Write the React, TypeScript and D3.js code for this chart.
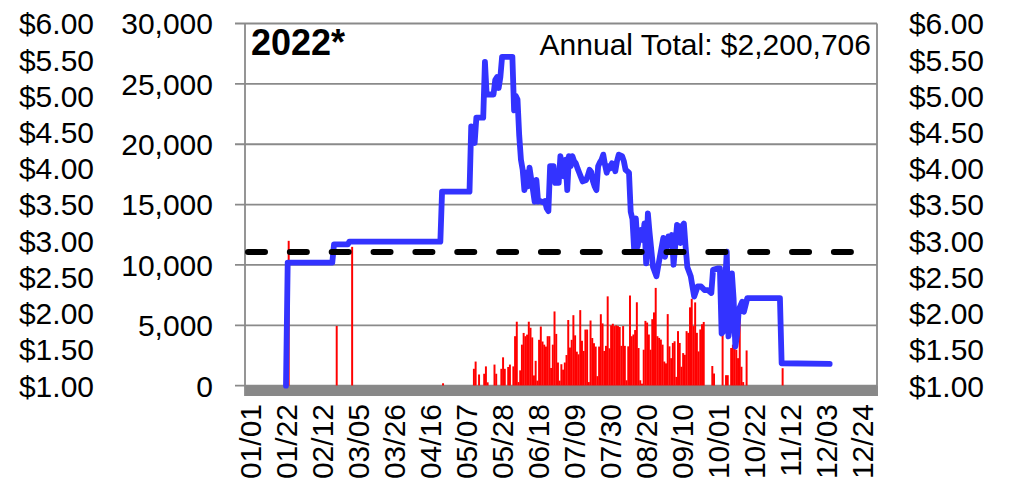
import React from "react";
import * as d3 from "d3";

const W = 1009;
const H = 491;

// axis labels
const xTickLabels = [
  "01/01", "01/22", "02/12", "03/05", "03/26", "04/16", "05/07", "05/28", "06/18",
  "07/09", "07/30", "08/20", "09/10", "10/01", "10/22", "11/12", "12/03", "12/24",
];
const volumeTicks = [0, 5000, 10000, 15000, 20000, 25000, 30000];
const priceTicks = [1, 1.5, 2, 2.5, 3, 3.5, 4, 4.5, 5, 5.5, 6];

const yearLabel = "2022*";
const annualTotal = "Annual Total: $2,200,706";
const referencePrice = 2.845;

// price, day of year (0 = Jan 1)
const priceDays = [
  21, 22, 48, 49, 57, 58, 111, 112, 128, 129, 131, 132, 136, 137, 138, 142, 143, 144, 145, 146,
  147, 153, 154, 155, 156, 157, 158, 159, 160, 161, 162, 163, 164, 165, 166, 167, 168, 169, 171, 172,
  173, 174, 175, 177, 178, 180, 181, 182, 183, 184, 185, 186, 187, 188, 189, 190, 191, 192, 193, 194,
  196, 197, 198, 199, 200, 201, 202, 203, 204, 205, 206, 207, 208, 209, 210, 211, 212, 213, 214, 215,
  217, 218, 219, 221, 222, 223, 224, 225, 226, 227, 228, 229, 230, 231, 232, 233, 235, 237, 239, 241,
  242, 244, 245, 246, 247, 249, 250, 251, 252, 253, 254, 255, 257, 258, 259, 261, 263, 265, 267, 269,
  270, 273, 274, 275, 276, 277, 278, 279, 280, 281, 282, 283, 284, 285, 287, 288, 290, 309, 310, 338,
];
const priceValues = [
  1.0, 2.7, 2.7, 2.95, 2.95, 2.99, 2.99, 3.68, 3.68, 4.58, 4.35, 4.7, 4.7, 5.47, 5.02, 5.02, 5.22, 5.26, 5.11, 5.26,
  5.54, 5.54, 4.8, 5.0, 4.95, 4.45, 4.12, 3.98, 3.7, 3.94, 3.75, 4.01, 3.85, 3.7, 3.54, 3.84, 3.54, 3.55, 3.53, 3.55,
  3.45, 3.41, 4.03, 4.03, 3.8, 3.8, 4.17, 4.0, 3.89, 4.12, 3.7, 4.17, 4.03, 4.17, 4.1, 4.07, 4.0, 3.94, 3.88, 3.82,
  3.84, 3.9, 3.98, 3.95, 3.82, 3.75, 3.7, 4.03, 4.08, 4.12, 4.19, 4.05, 3.94, 4.03, 4.0, 4.07, 4.05, 3.96, 4.1, 4.19,
  4.17, 4.1, 3.98, 3.94, 3.4, 3.3, 2.88, 3.31, 2.92, 3.05, 3.15, 3.01, 3.24, 2.69, 3.38, 3.11, 2.64, 2.51, 2.78, 3.04,
  2.78, 3.06, 2.94, 3.08, 2.67, 3.22, 3.2, 2.97, 3.2, 3.24, 2.92, 2.64, 2.51, 2.37, 2.23, 2.37, 2.37, 2.32, 2.32, 2.28,
  2.6, 2.62, 2.62, 1.72, 1.75, 2.4, 2.85, 1.68, 1.85, 2.55, 2.2, 1.54, 1.7, 2.05, 2.16, 2.02, 2.21, 2.21, 1.31, 1.3,
];

// isolated volume days
const spotDays = [22, 50, 59, 112, 310];
const spotVolumes = [12000, 4950, 11500, 200, 1450];

// daily volume from day 130 on
const dailyStart = 130;
const dailyVolumes = [
  1400, 2000, 0, 930, 0, 0, 990, 1600, 280, 0, 0, 0, 1750, 990, 0, 0, 1400, 2350, 1400, 0,
  1550, 1750, 0, 1600, 4100, 5300, 300, 1270, 3400, 4370, 4100, 4230, 5300, 4800, 4000, 850, 2060, 420, 3800, 4900,
  3660, 3400, 3240, 4100, 4100, 1470, 3400, 6150, 4290, 1920, 420, 1780, 1330, 1920, 2540, 5440, 3160, 3800, 5840, 4170,
  2820, 2600, 6260, 3720, 2880, 4650, 4650, 300, 5400, 3950, 3520, 3240, 790, 3240, 5920, 5160, 2880, 3300, 7400, 3100,
  5000, 5130, 4940, 5000, 4940, 4860, 3300, 4940, 3300, 450, 3260, 7470, 4100, 4240, 4610, 6910, 3120, 450, 170, 2980,
  5370, 5230, 4240, 2980, 5510, 6070, 8100, 4100, 3960, 3820, 3400, 2000, 1850, 5930, 3260, 2280, 3540, 3680, 730, 4520,
  3540, 1570, 2700, 2560, 4520, 4380, 6490, 7200, 4940, 6900, 4380, 2840, 4660, 5090, 5280, 0, 0, 0, 0, 1630,
  1010, 0, 0, 0, 0, 4500, 0, 870, 870, 0, 3120, 3400, 3260, 2980, 2280, 6800, 1570, 300, 0, 2920,
];

const font = "'Liberation Sans', Arial, sans-serif";

export default function App() {
  const x = d3.scaleLinear().domain([-2.9, 365.6]).range([245, 877]);
  const yVol = d3.scaleLinear().domain([0, 30000]).range([385.7, 23.5]);
  const yPrice = d3.scaleLinear().domain([1, 6]).range([385.7, 23.5]);
  const step = x(1) - x(0);

  const bars = [
    ...spotDays.map((d, i) => ({ day: d, v: spotVolumes[i] })),
    ...dailyVolumes.map((v, i) => ({ day: dailyStart + i, v })),
  ].filter((b) => b.v > 0);

  const pricePts: [number, number][] = priceDays.map((d, i) => [d, priceValues[i]]);
  const priceLine = d3
    .line<[number, number]>()
    .x((d) => x(d[0]))
    .y((d) => yPrice(d[1]))(pricePts);

  const tickDays = xTickLabels.map((_, i) => i * 21);
  const grid = "#8a8a8a";

  return (
    <svg
      width={W}
      height={H}
      style={{ position: "absolute", left: 0, top: 0, background: "#fff" }}
      fontFamily={font}
    >
      {volumeTicks.map((t) => (
        <g key={t}>
          <line x1={235} x2={877} y1={yVol(t)} y2={yVol(t)} stroke={grid} strokeWidth={1.8} />
          <text x={213} y={yVol(t)} dy="0.36em" fontSize={30} textAnchor="end">
            {d3.format(",")(t)}
          </text>
        </g>
      ))}
      {priceTicks.map((p) => (
        <g key={p}>
          <text x={94} y={yPrice(p)} dy="0.36em" fontSize={30} textAnchor="end">
            {d3.format("$.2f")(p)}
          </text>
          <text x={984} y={yPrice(p)} dy="0.36em" fontSize={30} textAnchor="end">
            {d3.format("$.2f")(p)}
          </text>
        </g>
      ))}
      {bars.map((b) => (
        <rect
          key={b.day}
          x={x(b.day)}
          y={yVol(b.v)}
          width={step + 0.25}
          height={yVol(0) - yVol(b.v)}
          fill="#ff0000"
        />
      ))}
      <rect x={245} y={yVol(0)} width={633} height={10.3} fill="#888888" />
      <line x1={245} x2={245} y1={yVol(30000)} y2={396} stroke={grid} strokeWidth={1.8} />
      <line x1={877} x2={877} y1={yVol(30000)} y2={396} stroke={grid} strokeWidth={1.8} />
      <path
        d={priceLine ?? ""}
        fill="none"
        stroke="#3333ff"
        strokeWidth={5.8}
        strokeLinejoin="round"
        strokeLinecap="round"
      />
      <line
        x1={248}
        x2={874.5}
        y1={yPrice(referencePrice)}
        y2={yPrice(referencePrice)}
        stroke="#000"
        strokeWidth={6}
        strokeDasharray="17 24.85"
        strokeLinecap="round"
      />
      <text x={251} y={55} fontSize={36} fontWeight="bold">
        {yearLabel}
      </text>
      <text x={871} y={55} fontSize={30} textAnchor="end">
        {annualTotal}
      </text>
      {tickDays.map((d, i) => (
        <text
          key={d}
          transform={`translate(${x(d)},404) rotate(-90)`}
          dy="0.36em"
          fontSize={30}
          textAnchor="end"
        >
          {xTickLabels[i]}
        </text>
      ))}
    </svg>
  );
}
